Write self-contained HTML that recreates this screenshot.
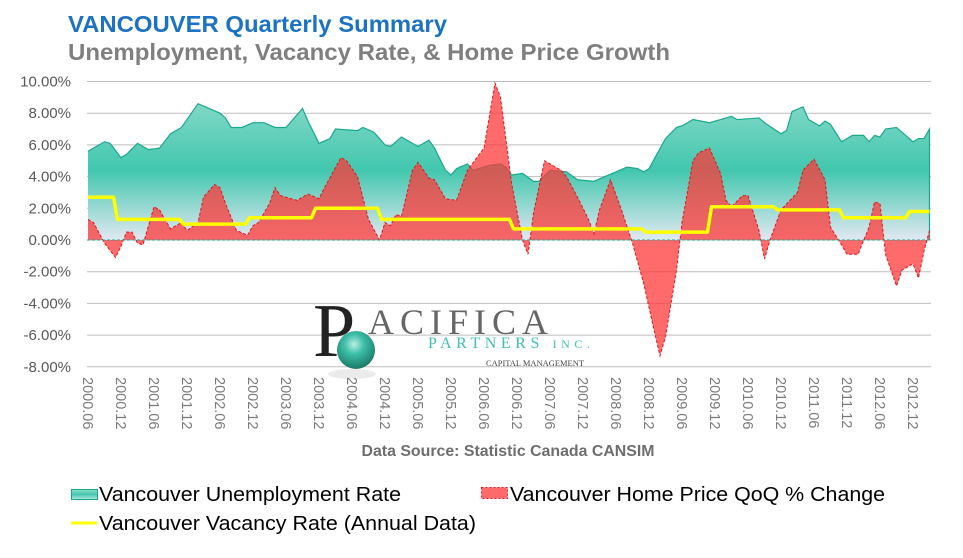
<!DOCTYPE html>
<html><head><meta charset="utf-8">
<style>
html,body{margin:0;padding:0;background:#fff;}
body{width:963px;height:553px;overflow:hidden;font-family:"Liberation Sans",sans-serif;}
</style></head>
<body>
<svg id="chart" width="963" height="553" viewBox="0 0 963 553" xmlns="http://www.w3.org/2000/svg">
<defs>
<linearGradient id="tealGrad" gradientUnits="userSpaceOnUse" x1="0" y1="85" x2="0" y2="240">
<stop offset="0" stop-color="#92ddcd"/>
<stop offset="0.55" stop-color="#42c7ae"/>
<stop offset="1" stop-color="#e2e8f1"/>
</linearGradient>
<linearGradient id="swatchGrad" x1="0" y1="0" x2="0" y2="1">
<stop offset="0" stop-color="#92ddcd"/>
<stop offset="0.5" stop-color="#42c7ae"/>
<stop offset="1" stop-color="#b8e8df"/>
</linearGradient>
<radialGradient id="ball" cx="0.45" cy="0.35" r="0.65">
<stop offset="0" stop-color="#bdeee6"/>
<stop offset="0.4" stop-color="#3dbfa8"/>
<stop offset="1" stop-color="#1a7a66"/>
</radialGradient>
</defs>
<text x="68" y="32" font-size="23.5" font-weight="bold" fill="#1c72c4" textLength="379" lengthAdjust="spacingAndGlyphs">VANCOUVER Quarterly Summary</text>
<text x="68" y="60" font-size="23.5" font-weight="bold" fill="#7f7f7f" textLength="602" lengthAdjust="spacingAndGlyphs">Unemployment, Vacancy Rate, &amp; Home Price Growth</text>
<g id="grid"></g>
<g id="logo">
<ellipse cx="352" cy="374" rx="24" ry="5" fill="#ddd" opacity="0.6"/>
<text x="313" y="356" font-family="Liberation Serif,serif" font-size="76" fill="#222">P</text>
<text x="368" y="334" font-family="Liberation Serif,serif" font-size="36" fill="#666" textLength="180" lengthAdjust="spacing">ACIFICA</text>
<text x="428" y="348" font-family="Liberation Serif,serif" font-size="16" fill="#3ec0b4" textLength="162" lengthAdjust="spacing">PARTNERS <tspan font-size="12">INC.</tspan></text>
<text x="486" y="366" font-family="Liberation Serif,serif" font-size="8" fill="#444" textLength="98" lengthAdjust="spacingAndGlyphs">CAPITAL MANAGEMENT</text>
<circle cx="356" cy="350" r="19" fill="url(#ball)"/>
</g>
<g id="series"></g>
<g id="axes"></g>
<text x="508" y="456" text-anchor="middle" font-size="15.5" font-weight="bold" fill="#6e6e6e" textLength="293" lengthAdjust="spacingAndGlyphs">Data Source: Statistic Canada CANSIM</text>
<g>
<g>
<rect x="71.5" y="489.5" width="26" height="10" fill="url(#swatchGrad)" stroke="#1aa58b"/>
<text x="99" y="501" font-size="20" fill="#000" textLength="302" lengthAdjust="spacingAndGlyphs">Vancouver Unemployment Rate</text>
</g>
<g>
<rect x="481.5" y="487.5" width="26" height="11" fill="#ff6b6b" stroke="#e01a22" stroke-dasharray="2,2"/>
<text x="510" y="501" font-size="20" fill="#000" textLength="375" lengthAdjust="spacingAndGlyphs">Vancouver Home Price QoQ % Change</text>
</g>
<g>
<line x1="71" y1="523" x2="97" y2="523" stroke="#ffff00" stroke-width="3"/>
<text x="99" y="530" font-size="20" fill="#000" textLength="377" lengthAdjust="spacingAndGlyphs">Vancouver Vacancy Rate (Annual Data)</text>
</g>
</g>
</svg>
<script>
// months since 2000.06
const unempMonths = [0,3,4,6,7,9,11,13,15,17,20,22,24,25,26,28,30,32,34,36,37,39,40,42,44,45,49,50,52,54,55,57,60,62,63,65,66,67,69,70,73,75,76,77,79,81,82,84,87,89,92,94,98,100,101,102,105,107,108,110,113,115,117,118,122,123,126,127,128,130,131,133,134,135,137,139,141,142,143,144,145,147,148,150,151,152,153];
const unempValues = [5.6,6.2,6.1,5.2,5.4,6.1,5.7,5.8,6.7,7.1,8.6,8.3,8.0,7.7,7.1,7.1,7.4,7.4,7.1,7.1,7.5,8.3,7.5,6.1,6.4,7.0,6.9,7.1,6.8,6.0,5.9,6.5,5.9,6.3,5.8,4.4,4.1,4.5,4.8,4.4,4.7,4.8,4.6,4.1,4.2,3.7,3.7,4.4,4.3,3.8,3.7,4.0,4.6,4.5,4.3,4.5,6.4,7.1,7.2,7.6,7.4,7.6,7.8,7.6,7.7,7.4,6.7,6.9,8.1,8.4,7.6,7.2,7.5,7.3,6.2,6.6,6.6,6.2,6.6,6.5,7.0,7.1,6.8,6.2,6.4,6.4,7.0];
const priceMonths = [0,1,3,5,6,7,8,9,10,12,13,15,17,18,20,21,23,24,25,27,29,30,31,33,34,35,38,40,42,43,46,47,49,51,53,54,55,56,57,59,60,62,63,65,67,69,72,74,75,77,79,80,81,83,84,86,87,89,91,92,93,95,97,99,101,103,104,105,107,108,110,111,113,115,116,117,119,120,122,123,124,126,129,130,132,134,135,137,138,140,142,143,144,145,147,148,150,151,152,153];
const priceValues = [1.3,1.1,-0.2,-1.1,-0.4,0.5,0.5,-0.2,-0.3,2.1,1.9,0.7,1.1,0.6,1.1,2.7,3.5,3.3,2.3,0.6,0.3,0.9,1.1,2.3,3.3,2.8,2.5,2.9,2.6,3.3,5.2,5.0,4.0,1.3,0.0,1.1,0.9,1.6,1.5,4.4,4.9,3.9,3.8,2.6,2.5,4.4,5.8,9.9,9.0,3.6,0.0,-0.9,1.7,5.0,4.8,4.4,4.0,2.7,1.3,0.4,1.9,3.8,1.9,-0.2,-2.7,-5.8,-7.3,-6.1,-1.9,1.1,5.0,5.5,5.8,4.2,2.5,2.1,2.8,2.8,0.6,-1.2,0.0,1.9,3.0,4.4,5.1,3.8,0.8,-0.3,-0.9,-0.9,0.8,2.4,2.3,-0.9,-2.9,-1.9,-1.5,-2.4,-0.7,0.6];
const vacancyStartMonths = [0,5,17,29,41,53,65,77,89,101,113,125,137,149];
const vacancyValues = [2.7,1.3,1.0,1.4,2.0,1.3,1.3,0.7,0.7,0.5,2.1,1.9,1.4,1.8];
const vacancyEndMonth = 153;
const yTicks = [10,8,6,4,2,0,-2,-4,-6,-8];
const xTickLabels = ["2000.06","2000.12","2001.06","2001.12","2002.06","2002.12","2003.06","2003.12","2004.06","2004.12","2005.06","2005.12","2006.06","2006.12","2007.06","2007.12","2008.06","2008.12","2009.06","2009.12","2010.06","2010.12","2011.06","2011.12","2012.06","2012.12"];

const NS="http://www.w3.org/2000/svg";
const xS = m => 88 + m*5.5;
const yS = v => 240 - v*15.85;
function mk(tag, attrs, parent){const e=document.createElementNS(NS,tag);for(const k in attrs)e.setAttribute(k,attrs[k]);parent.appendChild(e);return e;}
const grid=document.getElementById('grid'), series=document.getElementById('series'), axes=document.getElementById('axes');

yTicks.forEach(v=>{
  const l=mk('line',{x1:87,x2:931,y1:yS(v),y2:yS(v),stroke:'#bdbdbd','stroke-width':1},grid);
  
  
  const t=mk('text',{x:71,y:yS(v)+5,'text-anchor':'end','font-size':15,fill:'#595959'},axes);
  
  
  t.textContent=v.toFixed(2)+'%';
});
xTickLabels.forEach((s,i)=>{
  const x=xS(i*6);
  const t=mk('text',{transform:`translate(${x-5},377) rotate(90)`,'font-size':14.5,fill:'#7a7a7a'},axes);
  
  
  t.textContent=s;
});

function pts(ms,vs){return ms.map((m,i)=>[xS(m),yS(vs[i])]);}
const up=pts(unempMonths,unempValues);
let d='M'+up[0][0]+','+yS(0)+' '+up.map(p=>'L'+p[0]+','+p[1]).join(' ')+' L'+up[up.length-1][0]+','+yS(0)+' Z';
const ua=mk('path',{d:d,fill:'url(#tealGrad)',stroke:'none'},series);


const ul=mk('path',{d:'M'+up.map(p=>p[0]+','+p[1]).join(' L')+' L'+up[up.length-1][0]+','+yS(0),fill:'none',stroke:'#1aa88c','stroke-width':1.2},series);



const pp=pts(priceMonths,priceValues);
d='M'+pp[0][0]+','+yS(0)+' '+pp.map(p=>'L'+p[0]+','+p[1]).join(' ')+' L'+pp[pp.length-1][0]+','+yS(0)+' Z';
const pa=mk('path',{d:d,fill:'rgba(255,55,55,0.74)',stroke:'none'},series);


const pl=mk('path',{d:'M'+pp.map(p=>p[0]+','+p[1]).join(' L'),fill:'none',stroke:'#e0141e','stroke-width':1,'stroke-dasharray':'3,2'},series);


const zl=mk('line',{x1:87,x2:931,y1:yS(0),y2:yS(0),stroke:'#1aa88c','stroke-width':1,'stroke-dasharray':'3,2'},series);



let vd='';
vacancyStartMonths.forEach((m,i)=>{
  const end = i<vacancyStartMonths.length-1 ? vacancyStartMonths[i+1] : vacancyEndMonth;
  const x0 = i===0 ? xS(m) : xS(m)+2;
  vd += (i===0?'M':'L')+x0+','+yS(vacancyValues[i])+' L'+(i<vacancyStartMonths.length-1?xS(end)-2:xS(end))+','+yS(vacancyValues[i])+' ';
});
const vl=mk('path',{d:vd,fill:'none',stroke:'#ffff00','stroke-width':3.5,'stroke-linejoin':'round'},series);


</script>
</body></html>
